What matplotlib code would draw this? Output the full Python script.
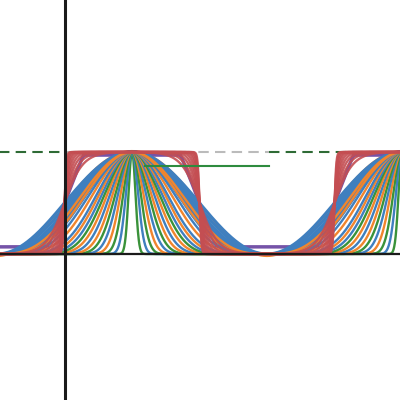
import numpy as np
import matplotlib
matplotlib.use('Agg')
import matplotlib.pyplot as plt

# axis geometry (1 unit = 102 px)
peak_x = 0.657
period = 2.647

# exponents of the raised-cosine spikes, and their colours
spike_pow = [320, 104, 51, 30, 20, 14.1, 10.5, 8.1, 6.4, 5.2, 4.3, 3.6, 3.1, 2.5, 2.1, 1.77, 1.51]
spike_col = ['#3a923a', '#3f7fbf', '#3a923a', '#f0852d', '#3f7fbf', '#3a923a', '#f0852d',
             '#3f7fbf', '#f0852d', '#3a923a', '#3f7fbf', '#f0852d', '#3f7fbf', '#f0852d',
             '#3f7fbf', '#f0852d', '#f0852d']

# steepness of the smoothed square waves (red)
square_k = [2.3, 3.0, 3.9, 5.0, 6.5, 8.5, 11, 14.5, 19, 24]

# broad blue band exponents
band_pow = [1.0, 1.12, 1.25, 1.38, 1.5, 1.65, 1.8]

x = np.linspace(-0.7, 3.4, 3000)
t = 2 * np.pi * (x - peak_x) / period
r = (1 + np.cos(t)) / 2

fig = plt.figure(figsize=(4, 4), dpi=100)
ax = fig.add_axes([0, 0, 1, 1])

# reference lines
ax.plot([-0.7, 0], [1, 1], color='#2e6b35', lw=1.5, ls=(0, (5, 3)), zorder=1)
ax.plot([0, 2.0], [1, 1], color='#bbbbbb', lw=1.5, ls=(0, (5, 3)), zorder=1)
ax.plot([2.0, 3.4], [1, 1], color='#2e6b35', lw=1.5, ls=(0, (5, 3)), zorder=1)
ax.plot([0.78, 2.0], [0.863, 0.863], color='#2e8b3e', lw=1.5, zorder=5)

ax.plot(x, 1.03 * r - 0.02, color='#f0852d', lw=1.5, zorder=1.5)
ax.plot(x, np.clip(0.5 + 1.1 * np.cos(t), 0.07, 0.97), color='#7553a8', lw=2.5, zorder=1.8)

for p in band_pow:
    ax.plot(x, r ** p, color='#3f7fbf', lw=2.2, zorder=2)

for p, c in zip(spike_pow, spike_col):
    ax.plot(x, r ** p, color=c, lw=1.7, zorder=3)

for k in square_k:
    y = 0.5 + 0.5 * np.tanh(k * np.cos(t)) / np.tanh(k)
    ax.plot(x, y, color='#c44e52', lw=1.7, alpha=0.9, zorder=4)

ax.axvline(0, color='#1a1a1a', lw=2.2, zorder=6)
ax.axhline(0, color='#1a1a1a', lw=1.6, zorder=6)

ax.set_xlim(-65 / 102, 335 / 102)
ax.set_ylim(-146 / 102, 254 / 102)
ax.axis('off')

fig.savefig('out.png', dpi=100)
